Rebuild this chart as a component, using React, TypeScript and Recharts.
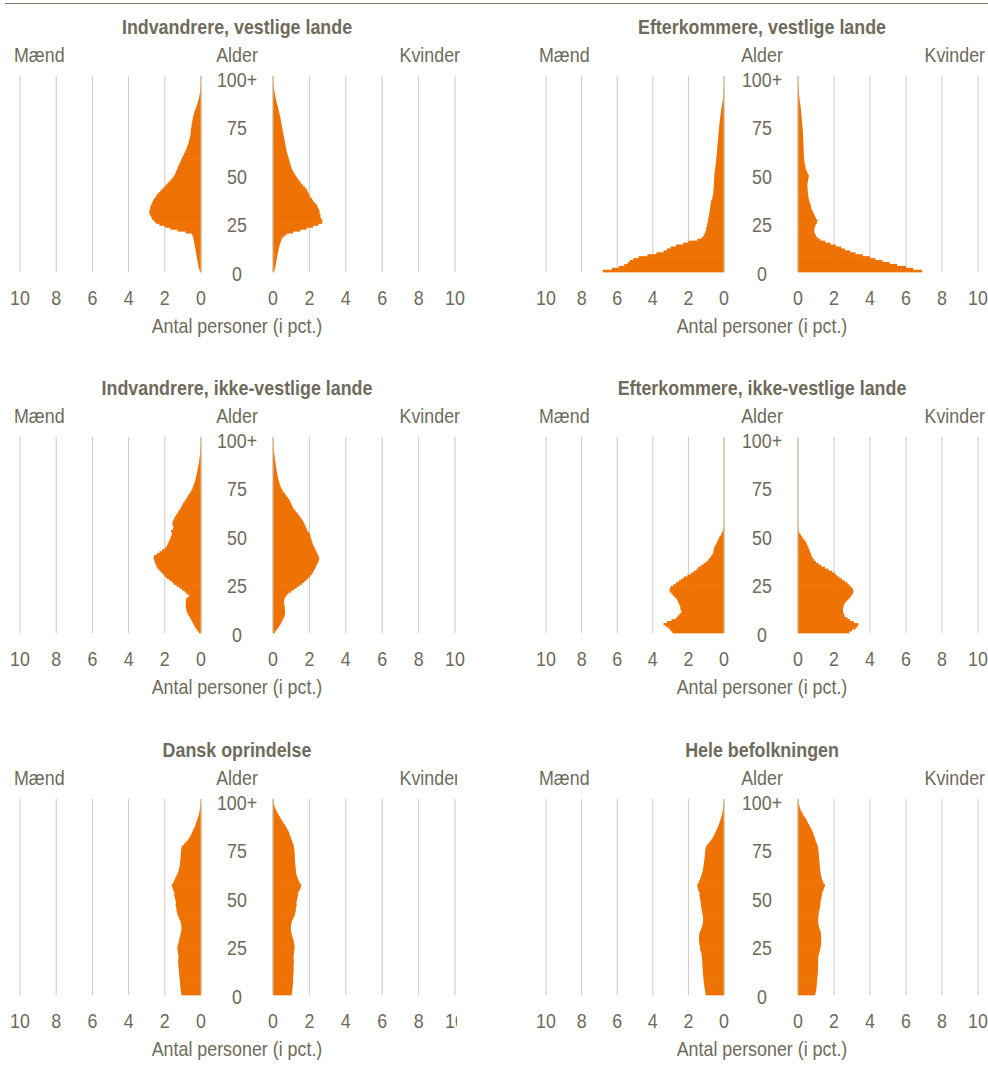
import React from 'react';
import { BarChart, Bar, XAxis, YAxis, CartesianGrid, ReferenceLine } from 'recharts';

const ORANGE = '#ee7203';
const TEXT = '#6e6a5c';
const GRID = '#cdc9c0';
const ZERO_LINE = '#d8b894';
const FONT = '"Liberation Sans", Arial, sans-serif';
const SQUEEZE = 0.85; // the source uses a narrow face

// age categories 0..100 (100 = "100+")
const ages = Array.from({ length: 101 }, (_, i) => i);
const ageTicks = [0, 25, 50, 75, 100];
const pctTicks = [0, 2, 4, 6, 8, 10];

// share of persons (pct.) per age, men / women
const menVestIndv = [
  0.06, 0.1, 0.13, 0.15, 0.17, 0.19, 0.21, 0.23, 0.25, 0.27,
  0.28, 0.3, 0.32, 0.34, 0.36, 0.38, 0.4, 0.42, 0.44, 0.5,
  0.85, 1.3, 1.7, 2.0, 2.3, 2.5, 2.6, 2.7, 2.75, 2.8,
  2.85, 2.85, 2.8, 2.8, 2.75, 2.7, 2.65, 2.6, 2.5, 2.45,
  2.35, 2.25, 2.15, 2.05, 1.95, 1.85, 1.75, 1.65, 1.55, 1.48,
  1.42, 1.38, 1.33, 1.29, 1.25, 1.2, 1.15, 1.1, 1.05, 1.0,
  0.95, 0.9, 0.85, 0.8, 0.76, 0.72, 0.69, 0.66, 0.63, 0.6,
  0.58, 0.57, 0.56, 0.55, 0.53, 0.52, 0.5, 0.48, 0.46, 0.44,
  0.42, 0.39, 0.36, 0.32, 0.28, 0.24, 0.2, 0.17, 0.14, 0.11,
  0.09, 0.07, 0.05, 0.04, 0.03, 0.02, 0.015, 0.01, 0.01, 0.005,
  0.01,
];
const womenVestIndv = [
  0.06, 0.1, 0.12, 0.14, 0.16, 0.18, 0.2, 0.22, 0.24, 0.26,
  0.28, 0.3, 0.32, 0.35, 0.38, 0.42, 0.46, 0.5, 0.6, 0.75,
  1.1, 1.5, 1.85, 2.2, 2.5, 2.7, 2.72, 2.65, 2.6, 2.6,
  2.55, 2.55, 2.5, 2.45, 2.4, 2.3, 2.2, 2.15, 2.05, 2.0,
  1.95, 1.9, 1.85, 1.75, 1.65, 1.55, 1.48, 1.4, 1.33, 1.25,
  1.18, 1.12, 1.07, 1.02, 0.98, 0.95, 0.92, 0.89, 0.86, 0.83,
  0.8, 0.77, 0.74, 0.72, 0.7, 0.68, 0.66, 0.64, 0.62, 0.6,
  0.58, 0.56, 0.54, 0.52, 0.5, 0.48, 0.46, 0.44, 0.42, 0.4,
  0.38, 0.35, 0.33, 0.3, 0.28, 0.25, 0.22, 0.19, 0.17, 0.15,
  0.13, 0.11, 0.09, 0.07, 0.05, 0.04, 0.03, 0.02, 0.015, 0.01,
  0.01,
];

const menVestEfter = [
  6.8, 6.3, 5.9, 5.6, 5.4, 5.3, 5.1, 4.8, 4.3, 3.8,
  3.4, 3.2, 3.0, 2.7, 2.3, 2.0, 1.5, 1.25, 1.15, 1.1,
  1.05, 1.0, 1.0, 0.95, 0.95, 0.92, 0.9, 0.88, 0.86, 0.84,
  0.82, 0.8, 0.78, 0.77, 0.76, 0.74, 0.72, 0.66, 0.64, 0.62,
  0.6, 0.6, 0.58, 0.58, 0.57, 0.56, 0.56, 0.55, 0.55, 0.54,
  0.53, 0.52, 0.5, 0.49, 0.48, 0.46, 0.45, 0.44, 0.43, 0.42,
  0.41, 0.4, 0.39, 0.38, 0.37, 0.36, 0.35, 0.34, 0.33, 0.32,
  0.31, 0.3, 0.29, 0.28, 0.27, 0.26, 0.25, 0.24, 0.22, 0.21,
  0.2, 0.18, 0.17, 0.15, 0.14, 0.12, 0.1, 0.08, 0.06, 0.05,
  0.04, 0.03, 0.02, 0.015, 0.01, 0.01, 0.005, 0.005, 0.003, 0.002,
  0.002,
];
const womenVestEfter = [
  6.9, 6.4, 6.0, 5.5, 5.1, 4.7, 4.3, 4.0, 3.6, 3.2,
  2.9, 2.6, 2.4, 2.1, 1.8, 1.5, 1.25, 1.1, 1.0, 0.95,
  0.9, 0.9, 0.92, 0.95, 0.98, 1.05, 1.08, 1.0, 0.95, 0.9,
  0.85, 0.8, 0.75, 0.72, 0.7, 0.66, 0.62, 0.6, 0.58, 0.56,
  0.55, 0.54, 0.53, 0.52, 0.52, 0.52, 0.54, 0.56, 0.58, 0.6,
  0.55, 0.5, 0.45, 0.42, 0.4, 0.38, 0.36, 0.35, 0.34, 0.33,
  0.32, 0.32, 0.31, 0.31, 0.3, 0.3, 0.3, 0.29, 0.29, 0.28,
  0.28, 0.27, 0.27, 0.26, 0.25, 0.24, 0.23, 0.22, 0.21, 0.2,
  0.19, 0.18, 0.17, 0.16, 0.15, 0.14, 0.12, 0.1, 0.09, 0.08,
  0.07, 0.06, 0.05, 0.04, 0.03, 0.02, 0.015, 0.01, 0.008, 0.005,
  0.005,
];

const menIkkeIndv = [
  0.12, 0.2, 0.28, 0.35, 0.4, 0.46, 0.52, 0.58, 0.64, 0.7,
  0.76, 0.8, 0.82, 0.84, 0.84, 0.84, 0.83, 0.82, 0.7, 0.65,
  0.8, 0.9, 1.05, 1.2, 1.35, 1.5, 1.6, 1.75, 1.9, 2.0,
  2.1, 2.2, 2.3, 2.4, 2.46, 2.5, 2.55, 2.58, 2.62, 2.6,
  2.45, 2.3, 2.15, 2.0, 1.9, 1.85, 1.8, 1.75, 1.7, 1.66,
  1.62, 1.6, 1.65, 1.55, 1.52, 1.55, 1.58, 1.55, 1.5, 1.45,
  1.38, 1.3, 1.25, 1.18, 1.1, 1.05, 1.0, 0.92, 0.85, 0.78,
  0.72, 0.65, 0.58, 0.52, 0.47, 0.43, 0.39, 0.35, 0.32, 0.29,
  0.27, 0.24, 0.22, 0.2, 0.18, 0.16, 0.14, 0.12, 0.1, 0.09,
  0.07, 0.06, 0.05, 0.04, 0.03, 0.02, 0.02, 0.01, 0.01, 0.005,
  0.005,
];
const womenIkkeIndv = [
  0.1, 0.18, 0.26, 0.33, 0.4, 0.46, 0.52, 0.57, 0.62, 0.65,
  0.66, 0.66, 0.65, 0.64, 0.62, 0.6, 0.6, 0.62, 0.68, 0.75,
  0.85, 1.0, 1.15, 1.3, 1.45, 1.6, 1.72, 1.85, 1.95, 2.05,
  2.13, 2.2, 2.26, 2.32, 2.37, 2.42, 2.48, 2.52, 2.54, 2.5,
  2.45, 2.4, 2.35, 2.3, 2.25, 2.2, 2.16, 2.12, 2.1, 2.06,
  2.04, 1.98, 1.9, 1.85, 1.8, 1.75, 1.7, 1.65, 1.58, 1.5,
  1.42, 1.35, 1.25, 1.18, 1.1, 1.05, 1.0, 0.95, 0.9, 0.82,
  0.74, 0.66, 0.58, 0.52, 0.46, 0.41, 0.37, 0.34, 0.31, 0.28,
  0.26, 0.24, 0.22, 0.2, 0.18, 0.17, 0.15, 0.14, 0.12, 0.11,
  0.09, 0.08, 0.06, 0.05, 0.04, 0.03, 0.02, 0.015, 0.01, 0.005,
  0.005,
];

const menIkkeEfter = [
  2.9, 3.0, 3.1, 3.25, 3.4, 3.2, 2.95, 2.7, 2.6, 2.5,
  2.4, 2.4, 2.45, 2.45, 2.5, 2.55, 2.6, 2.65, 2.75, 2.85,
  2.95, 3.05, 3.05, 3.0, 2.85, 2.7, 2.55, 2.4, 2.25, 2.05,
  1.85, 1.7, 1.55, 1.45, 1.3, 1.15, 1.0, 0.88, 0.8, 0.72,
  0.65, 0.6, 0.58, 0.56, 0.52, 0.46, 0.4, 0.35, 0.3, 0.25,
  0.17, 0.12, 0.06, 0.03, 0.02, 0.01, 0.01, 0.005, 0.005, 0.005,
  0, 0, 0, 0, 0, 0, 0, 0, 0, 0,
  0, 0, 0, 0, 0, 0, 0, 0, 0, 0,
  0, 0, 0, 0, 0, 0, 0, 0, 0, 0,
  0, 0, 0, 0, 0, 0, 0, 0, 0, 0,
  0,
];
const womenIkkeEfter = [
  2.85, 3.0, 3.2, 3.3, 3.35, 3.1, 2.9, 2.75, 2.6, 2.55,
  2.5, 2.5, 2.5, 2.52, 2.55, 2.6, 2.7, 2.8, 2.9, 2.98,
  3.05, 3.08, 3.05, 2.95, 2.85, 2.75, 2.6, 2.45, 2.3, 2.15,
  2.05, 1.9, 1.7, 1.5, 1.3, 1.15, 1.0, 0.9, 0.82, 0.76,
  0.72, 0.68, 0.64, 0.6, 0.55, 0.5, 0.45, 0.38, 0.3, 0.22,
  0.15, 0.08, 0.04, 0.02, 0.01, 0.005, 0.005, 0, 0, 0,
  0, 0, 0, 0, 0, 0, 0, 0, 0, 0,
  0, 0, 0, 0, 0, 0, 0, 0, 0, 0,
  0, 0, 0, 0, 0, 0, 0, 0, 0, 0,
  0, 0, 0, 0, 0, 0, 0, 0, 0, 0,
  0,
];

const menDansk = [
  1.08, 1.1, 1.12, 1.13, 1.14, 1.15, 1.16, 1.17, 1.18, 1.19,
  1.2, 1.21, 1.22, 1.23, 1.24, 1.25, 1.26, 1.26, 1.25, 1.24,
  1.25, 1.27, 1.28, 1.3, 1.3, 1.28, 1.25, 1.22, 1.2, 1.18,
  1.15, 1.12, 1.1, 1.08, 1.08, 1.08, 1.1, 1.12, 1.15, 1.2,
  1.25, 1.3, 1.32, 1.35, 1.35, 1.38, 1.4, 1.38, 1.4, 1.42,
  1.45, 1.48, 1.45, 1.5, 1.55, 1.58, 1.62, 1.55, 1.5, 1.45,
  1.4, 1.35, 1.3, 1.25, 1.22, 1.2, 1.18, 1.16, 1.15, 1.14,
  1.13, 1.12, 1.12, 1.1, 1.1, 1.08, 1.05, 0.95, 0.85, 0.75,
  0.68, 0.6, 0.55, 0.5, 0.45, 0.4, 0.35, 0.3, 0.27, 0.23,
  0.2, 0.16, 0.13, 0.1, 0.08, 0.06, 0.04, 0.03, 0.02, 0.01,
  0.01,
];
const womenDansk = [
  1.03, 1.05, 1.06, 1.07, 1.08, 1.09, 1.1, 1.1, 1.11, 1.11,
  1.12, 1.12, 1.13, 1.13, 1.13, 1.13, 1.14, 1.14, 1.13, 1.12,
  1.13, 1.15, 1.16, 1.17, 1.18, 1.18, 1.16, 1.14, 1.12, 1.08,
  1.05, 1.02, 1.0, 0.98, 0.98, 0.98, 1.0, 1.02, 1.05, 1.1,
  1.15, 1.2, 1.22, 1.25, 1.25, 1.28, 1.3, 1.28, 1.3, 1.32,
  1.35, 1.38, 1.36, 1.42, 1.48, 1.52, 1.55, 1.48, 1.42, 1.38,
  1.34, 1.3, 1.28, 1.26, 1.25, 1.24, 1.23, 1.22, 1.21, 1.2,
  1.2, 1.2, 1.19, 1.18, 1.17, 1.16, 1.15, 1.12, 1.08, 1.04,
  1.0, 0.96, 0.92, 0.88, 0.84, 0.78, 0.72, 0.65, 0.58, 0.52,
  0.45, 0.38, 0.32, 0.26, 0.2, 0.15, 0.11, 0.07, 0.04, 0.02,
  0.02,
];

const menHele = [
  1.03, 1.05, 1.07, 1.08, 1.1, 1.12, 1.13, 1.14, 1.15, 1.16,
  1.17, 1.18, 1.19, 1.2, 1.2, 1.21, 1.22, 1.22, 1.23, 1.24,
  1.25, 1.27, 1.3, 1.33, 1.35, 1.36, 1.38, 1.4, 1.4, 1.4,
  1.4, 1.38, 1.35, 1.3, 1.26, 1.22, 1.2, 1.18, 1.17, 1.17,
  1.18, 1.2, 1.22, 1.24, 1.26, 1.28, 1.3, 1.3, 1.32, 1.34,
  1.36, 1.38, 1.36, 1.42, 1.45, 1.48, 1.5, 1.44, 1.4, 1.35,
  1.3, 1.27, 1.24, 1.2, 1.18, 1.16, 1.15, 1.13, 1.12, 1.1,
  1.09, 1.08, 1.07, 1.06, 1.05, 1.03, 1.0, 0.92, 0.83, 0.74,
  0.66, 0.6, 0.54, 0.49, 0.44, 0.39, 0.34, 0.3, 0.26, 0.22,
  0.19, 0.15, 0.12, 0.1, 0.08, 0.06, 0.04, 0.03, 0.02, 0.01,
  0.01,
];
const womenHele = [
  0.96, 0.98, 1.0, 1.02, 1.03, 1.04, 1.05, 1.06, 1.07, 1.08,
  1.09, 1.1, 1.1, 1.11, 1.11, 1.12, 1.12, 1.12, 1.12, 1.12,
  1.14, 1.17, 1.2, 1.23, 1.25, 1.27, 1.28, 1.28, 1.29, 1.29,
  1.28, 1.27, 1.26, 1.22, 1.18, 1.15, 1.13, 1.12, 1.12, 1.12,
  1.13, 1.14, 1.16, 1.18, 1.2, 1.22, 1.24, 1.24, 1.26, 1.28,
  1.3, 1.33, 1.32, 1.38, 1.42, 1.46, 1.5, 1.42, 1.38, 1.33,
  1.3, 1.28, 1.26, 1.24, 1.23, 1.22, 1.21, 1.2, 1.19, 1.18,
  1.17, 1.16, 1.15, 1.14, 1.13, 1.12, 1.1, 1.06, 1.02, 0.98,
  0.95, 0.91, 0.87, 0.83, 0.79, 0.74, 0.68, 0.62, 0.56, 0.5,
  0.44, 0.37, 0.31, 0.25, 0.19, 0.14, 0.1, 0.07, 0.04, 0.02,
  0.02,
];

const textStyle: React.CSSProperties = {
  position: 'absolute',
  fontFamily: FONT,
  fontSize: 21,
  color: TEXT,
  whiteSpace: 'nowrap',
  lineHeight: '24px',
};

function PctTick(props: any) {
  const { x, y, payload } = props;
  return (
    <text
      x={0}
      y={0}
      dy="0.71em"
      transform={`translate(${x},${y}) scale(${SQUEEZE},1)`}
      textAnchor="middle"
      fill={TEXT}
      fontSize={21}
      fontFamily={FONT}
    >
      {payload.value}
    </text>
  );
}

// age labels sit in the gap between the two halves (centre at x=237 in chart coords)
function AgeTick(props: any) {
  const { y, payload } = props;
  const v = payload.value;
  if (!ageTicks.includes(v)) return <g />;
  return (
    <text
      x={0}
      y={2}
      dy="0.36em"
      transform={`translate(237,${y}) scale(${SQUEEZE},1)`}
      textAnchor="middle"
      fill={TEXT}
      fontSize={21}
      fontFamily={FONT}
    >
      {v === 100 ? '100+' : v}
    </text>
  );
}

// one-year bars: fill the whole band so neighbouring ages touch without seams
function AgeBar(props: any) {
  const { x, y, width, height, background } = props;
  if (!width) return <g />;
  const left = Math.min(x, x + width);
  const band = background && background.height ? background.height : height;
  const cy = y + height / 2;
  return (
    <rect
      x={left}
      y={cy - band / 2 - 0.3}
      width={Math.abs(width)}
      height={band + 0.6}
      fill={ORANGE}
    />
  );
}

function Pyramid({
  title,
  men,
  women,
  left,
  top,
  clipWidth,
  tight = 0,
}: {
  title: string;
  men: number[];
  women: number[];
  left: number;
  top: number;
  clipWidth?: number;
  tight?: number; // right-hand column is drawn a couple of pixels narrower
}) {
  const rows = ages.map((a, i) => ({ age: a, m: men[i], w: women[i] }));
  const marginTop = 16;
  const plotH = 196;
  const chartH = marginTop + plotH + 45;
  return (
    <div
      style={{
        position: 'absolute',
        left,
        top,
        width: clipWidth ?? 480,
        height: 345,
        overflow: clipWidth ? 'hidden' : 'visible',
      }}
    >
      <div
        style={{
          ...textStyle,
          left: 237,
          top: 27,
          transform: `translate(-50%, -50%) scaleX(${SQUEEZE})`,
          fontWeight: 'bold',
        }}
      >
        {title}
      </div>
      <div
        style={{
          ...textStyle,
          left: 14,
          top: 55,
          transformOrigin: 'left center',
          transform: `translateY(-50%) scaleX(${SQUEEZE})`,
        }}
      >
        Mænd
      </div>
      <div style={{ ...textStyle, left: 237, top: 55, transform: `translate(-50%, -50%) scaleX(${SQUEEZE})` }}>
        Alder
      </div>
      <div
        style={{
          ...textStyle,
          left: 460,
          top: 55,
          transformOrigin: 'right center',
          transform: `translate(-100%, -50%) scaleX(${SQUEEZE})`,
        }}
      >
        Kvinder
      </div>

      <div style={{ position: 'absolute', left: 0, top: 60 }}>
        <BarChart
          width={273}
          height={chartH}
          data={rows}
          layout="vertical"
          barCategoryGap={0}
          barGap={0}
          margin={{ top: marginTop, right: 0, bottom: 0, left: 20 + tight / 2 }}
        >
          <CartesianGrid horizontal={false} stroke={GRID} />
          <XAxis
            type="number"
            domain={[0, 10]}
            ticks={pctTicks}
            reversed
            axisLine={false}
            tickLine={false}
            tickMargin={12}
            height={45}
            tick={<PctTick />}
            interval={0}
          />
          <YAxis
            type="category"
            dataKey="age"
            reversed
            orientation="right"
            width={72 + tight}
            axisLine={false}
            tickLine={false}
            interval={0}
            tick={<AgeTick />}
          />
          <Bar dataKey="m" fill={ORANGE} shape={<AgeBar />} isAnimationActive={false} />
          <ReferenceLine x={0} stroke={ZERO_LINE} />
        </BarChart>
      </div>

      <div style={{ position: 'absolute', left: 253, top: 60 }}>
        <BarChart
          width={222}
          height={chartH}
          data={rows}
          layout="vertical"
          barCategoryGap={0}
          barGap={0}
          margin={{ top: marginTop, right: 20 + tight, bottom: 0, left: 20 }}
        >
          <CartesianGrid horizontal={false} stroke={GRID} />
          <XAxis
            type="number"
            domain={[0, 10]}
            ticks={pctTicks}
            axisLine={false}
            tickLine={false}
            tickMargin={12}
            height={45}
            tick={<PctTick />}
            interval={0}
          />
          <YAxis type="category" dataKey="age" reversed hide />
          <Bar dataKey="w" fill={ORANGE} shape={<AgeBar />} isAnimationActive={false} />
          <ReferenceLine x={0} stroke={ZERO_LINE} />
        </BarChart>
      </div>

      <div style={{ ...textStyle, left: 237, top: 326, transform: `translate(-50%, -50%) scaleX(${SQUEEZE})` }}>
        Antal personer (i pct.)
      </div>
    </div>
  );
}

export default function App() {
  return (
    <div style={{ position: 'absolute', left: 0, top: 0, width: 988, height: 1076, background: '#fff', overflow: 'hidden' }}>
      <div style={{ position: 'absolute', left: 5, top: 3, width: 983, height: 1, background: '#7a7668' }} />
      <Pyramid title="Indvandrere, vestlige lande" men={menVestIndv} women={womenVestIndv} left={0} top={0} />
      <Pyramid title="Efterkommere, vestlige lande" men={menVestEfter} women={womenVestEfter} left={525} top={0} tight={2} />
      <Pyramid title="Indvandrere, ikke-vestlige lande" men={menIkkeIndv} women={womenIkkeIndv} left={0} top={361} />
      <Pyramid title="Efterkommere, ikke-vestlige lande" men={menIkkeEfter} women={womenIkkeEfter} left={525} top={361} tight={2} />
      <Pyramid title="Dansk oprindelse" men={menDansk} women={womenDansk} left={0} top={723} clipWidth={457} />
      <Pyramid title="Hele befolkningen" men={menHele} women={womenHele} left={525} top={723} tight={2} />
    </div>
  );
}
